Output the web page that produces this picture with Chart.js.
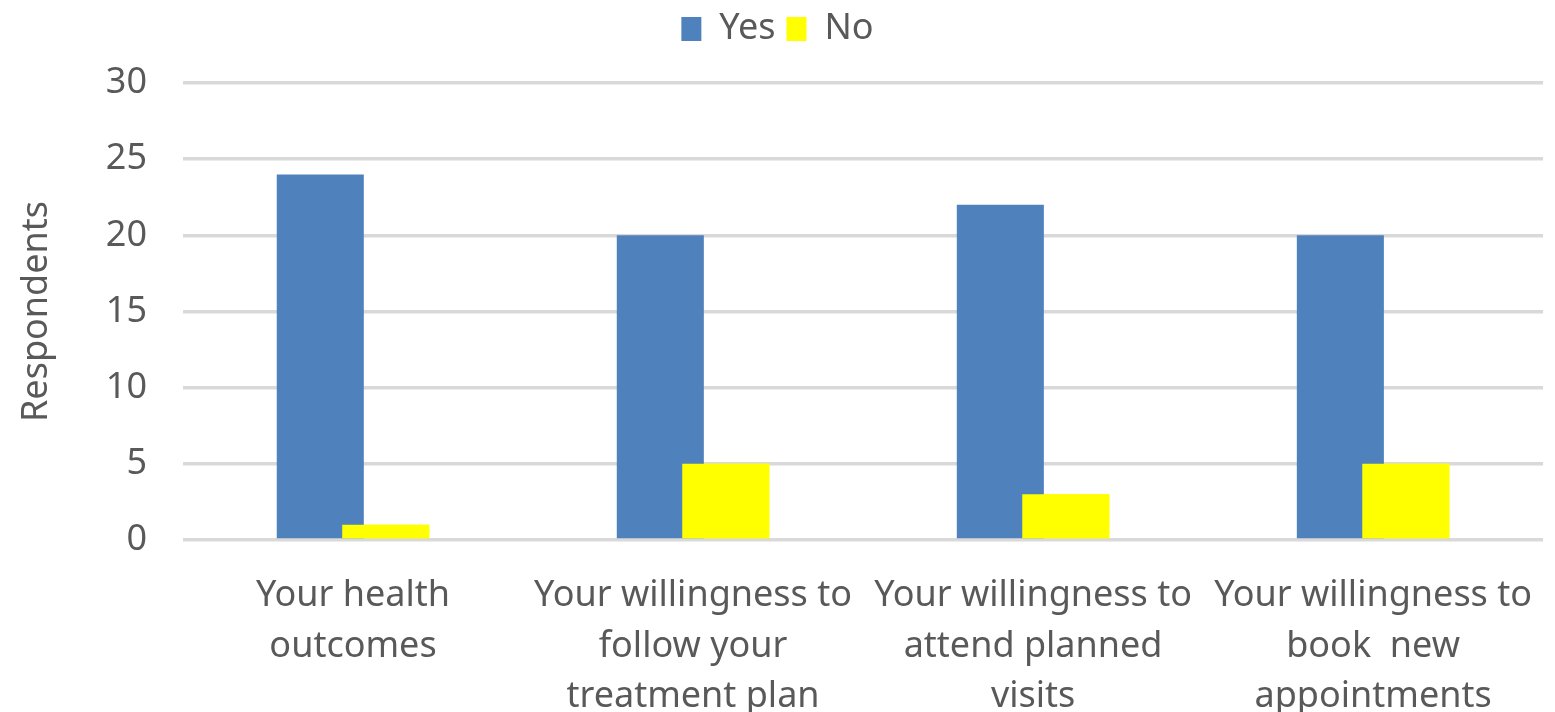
<!DOCTYPE html>
<html>
<head>
<meta charset="utf-8">
<script src="https://cdn.jsdelivr.net/npm/chart.js@4"></script>
<style>
  html, body { margin: 0; padding: 0; background: #fff; }
  #wrap { width: 1555px; height: 712px; }
</style>
</head>
<body>
<div id="wrap"><canvas id="myChart"></canvas></div>
<script>
// datos del grafico
const categorias = [
  ["Your health", "outcomes"],
  ["Your willingness to", "follow your", "treatment plan"],
  ["Your willingness to", "attend planned", "visits"],
  ["Your willingness to", "book  new", "appointments"],
];
const valoresSi = [24, 20, 22, 20];
const valoresNo = [1, 5, 3, 5];
const ticksY = [0, 5, 10, 15, 20, 25, 30];

const colorTexto = "#595959";
const fuente = "'Noto Sans', sans-serif";

const miGraf = document.querySelector("#myChart");

// el "No" va encima del "Yes" donde se solapan, y la leyenda deja aire abajo
const ajustes = {
  id: "ajustes",
  beforeInit(chart) {
    const fitOriginal = chart.legend.fit;
    chart.legend.fit = function () {
      fitOriginal.call(this);
      this.height += 26;
    };
  },
  afterDatasetsDraw(chart) {
    chart.getDatasetMeta(1).controller.draw();
  },
};

const config = {
  type: "bar",
  data: {
    labels: categorias,
    datasets: [
      {
        label: "Yes",
        data: valoresSi,
        backgroundColor: "#4f81bd",
        categoryPercentage: 0.385,
        barPercentage: 1.33,
      },
      {
        label: "No",
        data: valoresNo,
        backgroundColor: "#ffff00",
        categoryPercentage: 0.385,
        barPercentage: 1.33,
      },
    ],
  },
  options: {
    responsive: true,
    maintainAspectRatio: false,
    animation: false,
    layout: { padding: { top: 0, right: 0, left: 0, bottom: 0 } },
    plugins: {
      legend: {
        position: "top",
        labels: {
          boxWidth: 20,
          boxHeight: 24,
          padding: 11,
          color: colorTexto,
          font: { family: fuente, size: 36 },
        },
      },
      tooltip: { enabled: false },
    },
    scales: {
      x: {
        grid: { display: false },
        border: { display: false },
        ticks: {
          color: colorTexto,
          font: { family: fuente, size: 36, lineHeight: 1.4 },
          padding: 23,
          maxRotation: 0,
          autoSkip: false,
        },
        afterFit: (scale) => { scale.height = 172; },
      },
      y: {
        min: 0,
        max: 30,
        afterBuildTicks: (scale) => {
          scale.ticks = ticksY.map((v) => ({ value: v }));
        },
        grid: { color: "#d9d9d9", lineWidth: 3.5, drawTicks: false },
        border: { display: false },
        ticks: {
          color: colorTexto,
          font: { family: fuente, size: 36 },
          padding: 36,
        },
        title: {
          display: true,
          text: "Respondents",
          color: colorTexto,
          font: { family: fuente, size: 36 },
          padding: { top: 15, bottom: 0 },
        },
        afterFit: (scale) => { scale.width = 183; },
      },
    },
  },
  plugins: [ajustes],
};

const myChart = new Chart(miGraf, config);
</script>
</body>
</html>
